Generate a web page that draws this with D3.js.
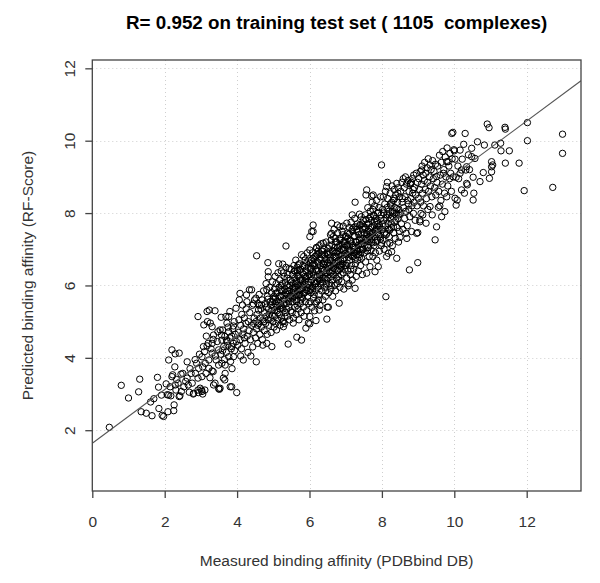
<!DOCTYPE html>
<html>
<head>
<meta charset="utf-8">
<script src="https://cdn.jsdelivr.net/npm/d3@7"></script>
<style>
  body { margin: 0; background: #fff; }
  text { font-family: "Liberation Sans", Arial, sans-serif; }
</style>
</head>
<body>
<svg id="chart"></svg>
<script>
const titleText = "R= 0.952 on training test set ( 1105  complexes)";
const xLabel = "Measured binding affinity (PDBbind DB)";
const yLabel = "Predicted binding affinity (RF-Score)";
const xTicks = [0, 2, 4, 6, 8, 10, 12];
const yTicks = [2, 4, 6, 8, 10, 12];
const xDomain = [0, 13.5];
const yDomain = [0.32, 12.23];
const fitLine = [1.64, 0.742]; // intercept, slope of the regression line

// [measured, predicted]
const points = [
  [0.47,2.08],[0.80,3.24],[1.00,2.89],[1.28,3.06],[1.31,3.41],[1.35,2.51],[1.49,2.47],[1.61,2.78],[1.65,2.40],[1.70,2.87],
  [1.80,3.46],[1.83,3.19],[1.84,2.60],[1.91,2.97],[1.93,2.41],[1.97,2.38],
  [2.04,3.28],[2.07,2.98],[2.09,2.51],[2.11,2.97],[2.17,2.95],[2.20,3.48],[2.22,3.53],[2.25,2.54],[2.26,2.70],[2.29,3.25],
  [2.31,3.11],[2.37,3.30],[2.40,2.93],[2.42,2.95],[2.46,3.07],[2.20,4.22],[2.11,3.94],[2.29,4.11],[2.40,4.13],[2.15,3.20],
  [2.33,3.40],[2.45,3.55],[2.28,3.75],
  [2.50,3.57],[2.53,3.20],[2.62,3.44],[2.65,3.25],[2.73,3.57],[2.79,3.00],[2.80,3.02],[2.85,3.57],[2.92,3.11],[2.93,3.04],
  [2.92,3.44],[2.94,3.71],[2.98,3.16],[2.62,3.89],[2.70,3.70],[2.58,3.35],[2.88,3.85],[2.76,3.30],[2.92,5.14],[2.96,4.10],
  [2.84,3.95],[2.68,3.05],
  [3.02,3.11],[3.03,3.07],[3.03,3.48],[3.05,3.00],[3.14,3.57],[3.22,3.71],[3.31,3.64],[3.35,3.25],[3.49,3.15],[3.34,3.62],
  [3.39,3.30],[3.11,3.11],[3.17,5.28],[3.08,4.91],[3.26,4.96],[3.31,4.86],[3.23,5.32],[3.39,5.30],[3.18,5.00],[3.10,4.17],
  [3.17,4.33],[3.03,4.03],[3.22,3.94],[3.31,4.13],[3.42,3.94],[3.49,4.22],[3.31,4.40],[3.35,4.63],[3.47,4.72],[3.34,4.51],
  [3.20,4.40],[3.07,4.31],[3.49,3.80],[3.12,3.85],[3.28,4.25],[3.40,4.05],[3.15,4.60],[3.45,4.45],[3.05,3.75],[3.25,3.45],
  [3.51,3.13],[3.53,3.16],[3.56,5.12],[3.58,4.49],[3.60,4.77],[3.62,3.44],[3.63,4.31],[3.66,3.39],[3.66,4.59],[3.67,3.57],
  [3.67,3.80],[3.69,5.14],[3.71,4.49],[3.72,4.45],[3.72,4.96],[3.77,4.03],[3.77,4.72],[3.77,5.14],[3.80,5.28],[3.81,3.20],
  [3.85,3.20],[3.85,4.31],[3.85,4.60],[3.88,4.80],[3.90,4.03],[3.90,4.40],[3.90,4.88],[3.92,5.00],[3.97,5.37],[3.99,3.04],
  [3.53,4.77],[3.57,4.63],[3.84,4.25],[3.55,4.10],[3.60,4.20],[3.70,4.15],[3.75,4.35],[3.80,4.55],[3.95,4.65],[3.65,3.95],
  [3.82,3.90],[3.93,4.20],[3.75,4.85],[3.98,4.45],[3.58,3.85],[3.86,3.70],
  [4.06,5.60],[4.08,5.78],[4.15,5.46],[4.17,3.94],[4.26,5.74],[4.34,5.88],[4.40,5.88],[4.45,5.49],
  [4.02,4.35],[4.04,4.70],[4.05,5.05],[4.08,4.50],[4.10,4.90],[4.12,4.25],[4.13,5.20],[4.15,4.65],[4.18,4.80],[4.20,5.10],
  [4.22,4.40],[4.24,4.95],[4.25,5.35],[4.28,4.60],[4.30,4.15],[4.31,5.00],[4.33,4.75],[4.35,5.25],[4.37,4.50],[4.40,4.90],
  [4.42,5.45],[4.43,4.30],[4.45,4.70],[4.47,5.10],[4.48,5.60],[4.10,4.05],[4.20,4.55],[4.38,4.05],[4.27,5.55],[4.46,4.95],
  [4.52,5.65],[4.53,3.89],[4.54,6.82],[4.59,5.32],[4.68,5.46],[4.82,4.40],[4.82,5.88],[4.85,6.63],[4.86,6.38],[4.86,6.24],
  [4.96,4.31],
  [4.51,4.55],[4.52,5.00],[4.54,4.80],[4.55,5.20],[4.57,4.40],[4.58,5.50],[4.60,4.95],[4.61,5.75],[4.63,4.65],[4.64,5.10],
  [4.66,5.35],[4.67,4.85],[4.69,5.60],[4.70,4.50],[4.72,5.05],[4.73,5.85],[4.75,4.75],[4.76,5.25],[4.78,5.50],[4.79,4.95],
  [4.80,6.05],[4.81,5.15],[4.83,4.65],[4.84,5.70],[4.87,5.35],[4.88,4.90],[4.90,5.95],[4.91,5.55],[4.92,5.10],[4.94,4.70],
  [4.95,5.80],[4.96,5.30],[4.98,6.10],[4.99,5.00],[4.62,5.45],[4.74,5.00],[4.86,5.05],[4.97,5.55],[4.57,4.90],[4.71,4.35],
  [4.81,5.40],[4.85,5.62],[4.89,5.20],[4.93,5.45],[4.97,5.18],
  [5.09,4.77],[5.26,6.59],[5.28,4.86],[5.28,5.00],[5.32,5.14],[5.35,7.09],[5.41,4.38],[5.44,6.47],
  [5.01,5.40],[5.02,4.85],[5.03,5.90],[5.04,5.15],[5.05,6.25],[5.06,5.65],[5.07,4.95],[5.08,6.05],[5.10,5.30],[5.11,5.80],
  [5.12,5.05],[5.13,6.35],[5.14,5.55],[5.16,5.95],[5.17,5.20],[5.18,6.15],[5.19,4.90],[5.20,5.70],[5.21,5.45],[5.22,6.40],
  [5.23,5.10],[5.24,5.85],[5.25,6.05],[5.27,5.35],[5.29,5.60],[5.30,6.25],[5.31,4.95],[5.33,5.80],[5.34,5.25],[5.35,6.50],
  [5.36,5.50],[5.37,6.00],[5.38,5.15],[5.39,5.75],[5.40,6.30],[5.42,5.40],[5.43,5.95],[5.45,5.05],[5.46,5.65],[5.47,6.15],
  [5.48,5.30],[5.49,6.45],[5.05,5.50],[5.15,6.60],[5.25,5.00],[5.32,5.90],[5.44,5.85],[5.12,5.45],[5.22,6.00],[5.38,6.20],
  [5.02,5.70],[5.28,6.35],[5.41,5.60],[5.18,5.35],
  [5.00,5.62],[5.04,5.32],[5.07,5.78],[5.09,5.55],[5.13,5.25],[5.16,5.70],[5.19,5.50],[5.21,5.88],[5.24,5.40],[5.27,5.72],
  [5.30,5.48],[5.33,6.08],[5.35,5.62],[5.37,5.35],[5.40,5.85],[5.43,5.55],[5.46,6.00],[5.48,5.72],
  [5.55,4.96],[5.65,4.57],[5.66,6.50],[5.69,6.57],[5.78,4.49],[5.90,4.82],[5.97,4.96],
  [5.51,5.80],[5.52,5.25],[5.53,6.30],[5.54,5.55],[5.55,6.05],[5.56,5.10],[5.57,6.55],[5.58,5.70],[5.59,6.20],[5.60,5.40],
  [5.61,5.95],[5.62,6.70],[5.63,5.20],[5.64,6.10],[5.65,5.60],[5.67,6.40],[5.68,5.85],[5.69,5.35],[5.70,6.25],[5.71,5.05],
  [5.72,6.60],[5.73,5.75],[5.74,6.00],[5.75,5.50],[5.76,6.45],[5.77,5.25],[5.78,6.85],[5.79,5.90],[5.80,6.15],[5.81,5.65],
  [5.82,6.55],[5.83,5.40],[5.84,6.30],[5.85,5.15],[5.86,6.05],[5.87,5.80],[5.88,6.70],[5.89,5.55],[5.90,6.40],[5.91,6.20],
  [5.92,5.30],[5.93,5.95],[5.94,6.90],[5.95,5.70],[5.96,6.50],[5.97,6.10],[5.98,5.50],[5.99,6.30],[5.56,5.85],[5.64,5.75],
  [5.72,6.20],[5.80,5.95],[5.88,6.25],[5.96,5.85],[5.60,6.40],[5.76,5.60],[5.84,6.80],[5.66,5.45],
  [5.51,6.10],[5.53,5.65],[5.55,5.92],[5.58,6.40],[5.60,5.82],[5.62,6.05],[5.64,5.55],[5.66,6.28],[5.68,6.00],[5.70,5.72],
  [5.72,6.42],[5.74,5.88],[5.76,6.15],[5.78,5.70],[5.80,6.35],[5.82,6.02],[5.84,5.78],[5.86,6.52],[5.88,6.12],[5.90,5.88],
  [5.92,6.62],[5.94,6.25],[5.96,6.02],[5.98,6.70],
  [6.01,4.94],[6.01,5.14],[6.18,5.03],[6.27,5.32],[6.01,7.35],[6.06,7.49],[6.10,7.49],[6.10,7.67],[6.20,7.03],[6.38,7.17],
  [6.48,5.07],[6.49,5.40],[6.01,6.98],
  [6.01,6.00],[6.02,5.55],[6.03,6.45],[6.04,5.80],[6.05,6.70],[6.06,6.15],[6.07,5.40],[6.08,6.90],[6.09,5.95],[6.10,6.35],
  [6.11,5.65],[6.12,6.60],[6.13,6.10],[6.14,5.30],[6.15,6.80],[6.16,5.85],[6.17,6.45],[6.18,6.05],[6.19,7.05],[6.20,5.55],
  [6.21,6.25],[6.22,6.65],[6.23,5.95],[6.24,6.95],[6.25,6.40],[6.26,5.75],[6.27,6.15],[6.28,6.75],[6.29,5.45],[6.30,6.55],
  [6.31,6.00],[6.32,7.15],[6.33,6.30],[6.34,5.85],[6.35,6.85],[6.36,6.10],[6.37,5.60],[6.38,6.60],[6.39,6.40],[6.40,7.00],
  [6.41,5.95],[6.42,6.20],[6.43,6.75],[6.44,5.70],[6.45,6.50],[6.46,7.20],[6.47,6.05],[6.48,6.35],[6.49,6.90],[6.05,6.25],
  [6.13,5.75],[6.21,6.85],[6.29,6.20],[6.37,6.45],[6.45,5.85],[6.09,6.55],[6.25,5.60],[6.41,6.65],[6.17,5.50],[6.33,6.95],
  [6.03,5.90],[6.27,7.10],
  [6.00,6.30],[6.02,6.62],[6.04,6.08],[6.06,6.48],[6.08,5.85],[6.10,6.75],[6.12,6.28],[6.14,6.55],[6.16,6.05],[6.18,6.82],
  [6.20,6.40],[6.22,6.12],[6.24,6.62],[6.26,6.88],[6.28,6.30],[6.30,6.05],[6.32,6.70],[6.34,6.45],[6.36,6.95],[6.38,6.22],
  [6.40,6.58],[6.42,6.85],[6.44,6.35],[6.46,6.72],[6.48,6.15],
  [6.52,5.40],[6.61,7.72],[6.61,7.44],[6.77,7.67],[6.82,5.51],[6.84,7.62],[6.93,7.64],
  [6.51,6.20],[6.52,6.85],[6.53,5.80],[6.54,6.55],[6.55,7.10],[6.56,6.05],[6.57,6.70],[6.58,6.35],[6.59,5.90],[6.60,7.25],
  [6.61,6.50],[6.62,6.15],[6.63,6.95],[6.64,5.70],[6.65,6.60],[6.66,7.35],[6.67,6.30],[6.68,6.80],[6.69,6.00],[6.70,7.05],
  [6.71,6.45],[6.72,5.85],[6.73,6.90],[6.74,6.20],[6.75,7.20],[6.76,6.65],[6.77,6.05],[6.78,7.45],[6.79,6.40],[6.80,6.85],
  [6.81,6.15],[6.82,7.10],[6.83,6.55],[6.84,5.95],[6.85,7.30],[6.86,6.70],[6.87,6.30],[6.88,7.00],[6.89,6.10],[6.90,7.50],
  [6.91,6.60],[6.92,6.85],[6.93,6.35],[6.94,7.20],[6.95,5.90],[6.96,6.75],[6.97,7.05],[6.98,6.45],[6.99,7.35],[6.56,6.90],
  [6.64,6.40],[6.72,7.30],[6.80,6.25],[6.88,6.50],[6.96,7.15],[6.60,6.00],[6.68,7.55],[6.76,6.95],[6.84,6.45],[6.92,7.40],
  [6.58,7.40],
  [6.50,6.62],[6.52,7.02],[6.54,6.38],[6.56,6.78],[6.58,6.55],[6.60,6.25],[6.62,7.12],[6.64,6.70],[6.66,6.48],[6.68,6.95],
  [6.70,6.62],[6.72,7.20],[6.74,6.78],[6.76,6.42],[6.78,7.05],[6.80,6.68],[6.82,6.95],[6.84,7.25],[6.86,6.58],[6.88,6.82],
  [6.90,7.12],[6.92,6.72],[6.94,6.98],[6.96,6.55],[6.98,7.22],
  [7.03,7.72],[7.07,5.99],[7.26,5.92],[7.26,8.30],[7.38,7.97],
  [7.01,6.55],[7.02,7.10],[7.03,6.20],[7.04,6.85],[7.05,7.45],[7.06,6.40],[7.08,7.00],[7.09,6.05],[7.10,7.60],[7.11,6.70],
  [7.12,7.25],[7.13,6.30],[7.14,6.95],[7.15,7.75],[7.16,6.55],[7.17,7.15],[7.18,6.15],[7.19,7.50],[7.20,6.80],[7.21,7.05],
  [7.22,6.45],[7.23,7.35],[7.24,6.90],[7.25,7.85],[7.27,6.60],[7.28,7.20],[7.29,6.25],[7.30,7.55],[7.31,6.95],[7.32,7.70],
  [7.33,6.70],[7.34,7.10],[7.35,6.40],[7.36,7.40],[7.37,6.85],[7.39,7.65],[7.40,7.00],[7.41,6.55],[7.42,7.30],[7.43,7.90],
  [7.44,6.75],[7.45,7.15],[7.46,6.30],[7.47,7.55],[7.48,7.00],[7.49,7.80],[7.06,7.30],[7.14,6.45],[7.22,7.60],[7.30,6.85],
  [7.38,7.25],[7.46,7.70],[7.10,6.90],[7.26,7.05],[7.42,6.90],[7.18,7.95],
  [7.00,6.88],[7.02,7.35],[7.04,6.62],[7.06,7.12],[7.08,6.78],[7.10,7.42],[7.12,6.98],[7.14,7.22],[7.16,6.82],[7.18,7.55],
  [7.20,7.10],[7.22,6.92],[7.24,7.38],[7.26,6.72],[7.28,7.62],[7.30,7.20],[7.32,6.98],[7.34,7.48],[7.36,7.12],[7.38,6.78],
  [7.40,7.68],[7.42,7.15],[7.44,7.42],[7.46,6.98],[7.48,7.30],
  [7.56,8.50],[7.58,8.64],[7.72,8.47],[7.76,8.50],[7.67,6.52],[7.81,6.38],[7.58,6.34],[7.99,9.33],[7.90,6.52],
  [7.51,6.90],[7.52,7.45],[7.53,7.10],[7.54,7.95],[7.55,6.65],[7.57,7.30],[7.59,7.70],[7.60,6.95],[7.61,8.15],[7.62,7.50],
  [7.63,7.05],[7.64,7.85],[7.65,6.80],[7.66,7.35],[7.67,7.26],[7.68,8.05],[7.69,7.60],[7.70,6.98],[7.71,7.80],[7.72,7.20],
  [7.73,8.30],[7.74,7.45],[7.75,6.80],[7.77,7.95],[7.78,7.10],[7.79,7.65],[7.80,8.20],[7.81,7.35],[7.82,6.90],[7.83,7.85],
  [7.84,7.55],[7.85,8.35],[7.86,6.70],[7.87,7.25],[7.88,8.00],[7.89,7.70],[7.91,7.40],[7.92,8.15],[7.93,6.95],[7.94,7.60],
  [7.95,7.35],[7.96,8.45],[7.97,7.85],[7.98,7.10],[7.99,7.17],[7.60,7.25],[7.70,7.40],[7.80,7.75],[7.90,7.55],[7.55,7.60],
  [7.75,8.10],
  [7.50,7.62],[7.53,7.25],[7.56,7.82],[7.58,7.42],[7.61,7.05],[7.63,7.70],[7.66,7.48],[7.68,7.90],[7.71,7.30],[7.73,7.62],
  [7.76,7.18],[7.78,7.92],[7.81,7.52],[7.83,7.20],[7.86,7.78],[7.88,7.45],[7.91,8.02],[7.93,7.65],[7.96,7.28],[7.98,7.95],
  [8.11,5.69],[8.41,6.75],[8.18,6.89],[8.13,6.80],[8.27,6.93],
  [8.01,7.55],[8.02,8.10],[8.03,7.25],[8.04,8.45],[8.05,7.80],[8.06,7.00],[8.08,8.25],[8.09,7.65],[8.10,8.60],[8.12,7.40],
  [8.13,8.73],[8.13,7.44],[8.14,7.95],[8.15,7.15],[8.16,8.40],[8.17,7.70],[8.19,8.05],[8.20,7.35],[8.22,7.53],[8.22,7.17],
  [8.23,8.55],[8.24,7.85],[8.25,8.20],[8.26,7.60],[8.28,8.75],[8.29,7.10],[8.30,8.00],[8.31,7.90],[8.32,8.35],[8.33,7.45],
  [8.34,8.65],[8.35,7.75],[8.36,8.15],[8.37,7.30],[8.38,8.50],[8.39,7.95],[8.41,8.82],[8.42,7.60],[8.43,8.30],[8.44,7.85],
  [8.45,8.70],[8.46,7.20],[8.47,8.10],[8.48,7.50],[8.49,8.45],[8.15,8.85],[8.27,8.30],[8.40,8.00],
  [8.02,7.70],[8.05,8.00],[8.08,7.45],[8.11,7.88],[8.14,8.15],[8.17,7.55],[8.20,7.95],[8.23,8.25],[8.26,7.72],[8.29,8.05],
  [8.32,7.62],[8.35,8.40],[8.38,7.80],[8.41,8.12],[8.44,8.55],[8.47,7.95],
  [8.50,7.33],[8.67,7.44],[8.69,7.30],[8.76,6.43],[8.99,6.63],[8.96,7.44],
  [8.51,8.00],[8.52,8.60],[8.54,7.70],[8.55,8.85],[8.56,8.30],[8.58,7.55],[8.59,8.95],[8.60,8.15],[8.62,8.70],[8.63,7.85],
  [8.64,8.45],[8.65,9.00],[8.66,8.05],[8.68,8.80],[8.70,7.65],[8.71,8.35],[8.72,8.90],[8.74,8.10],[8.75,8.60],[8.77,7.90],
  [8.78,8.82],[8.79,8.80],[8.80,8.40],[8.81,8.85],[8.82,7.49],[8.83,8.20],[8.84,8.95],[8.85,8.55],[8.87,7.99],[8.88,9.05],
  [8.89,8.30],[8.90,8.70],[8.92,7.80],[8.93,8.50],[8.95,9.10],[8.97,8.20],[8.98,8.85],[8.99,7.46],[8.57,8.40],[8.73,8.25],
  [8.86,8.65],
  [9.05,7.81],[9.05,7.76],[9.08,7.99],[9.22,7.72],[9.33,8.18],[9.47,7.26],[9.10,9.19],[9.33,9.33],
  [9.01,8.40],[9.02,8.95],[9.04,8.65],[9.06,9.15],[9.07,8.30],[9.09,8.80],[9.11,9.30],[9.12,8.55],[9.14,9.05],[9.15,8.20],
  [9.17,8.90],[9.18,9.40],[9.20,8.65],[9.21,9.10],[9.23,8.40],[9.25,9.25],[9.26,8.85],[9.28,9.50],[9.29,8.60],[9.31,9.00],
  [9.34,8.75],[9.36,9.20],[9.38,8.45],[9.40,9.45],[9.42,8.95],[9.44,9.15],[9.46,8.70],[9.48,9.35],[9.49,8.50],[9.13,7.95],
  [9.27,8.10],[9.39,7.95],
  [9.51,7.62],[9.56,8.16],[9.65,7.90],[9.74,8.04],[9.79,8.45],[9.93,10.20],[9.96,10.23],[9.83,9.42],[9.51,9.01],[9.70,9.10],
  [9.52,8.85],[9.54,9.30],[9.57,8.60],[9.59,9.60],[9.61,9.05],[9.63,8.35],[9.64,9.40],[9.67,8.80],[9.68,9.70],[9.71,9.20],
  [9.73,8.55],[9.75,9.55],[9.77,9.00],[9.79,9.42],[9.80,9.80],[9.82,8.75],[9.85,9.30],[9.87,8.95],[9.88,9.65],[9.90,9.10],
  [9.92,8.60],[9.94,9.50],[9.97,9.00],[9.99,9.75],[9.60,8.20],
  [10.00,9.72],[10.02,8.41],[10.02,9.49],[10.05,8.22],[10.05,8.99],[10.08,8.36],[10.16,9.10],[10.16,9.74],[10.20,8.64],
  [10.20,9.19],[10.22,9.49],[10.30,10.20],[10.32,9.19],[10.34,8.82],[10.34,9.28],[10.36,8.78],[10.39,9.61],[10.48,9.56],
  [10.48,9.79],[10.10,9.30],[10.26,9.90],[10.12,8.95],[10.42,9.20],[10.28,8.55],
  [10.52,8.36],[10.52,8.99],[10.54,8.55],[10.57,9.51],[10.64,9.97],[10.71,8.87],[10.80,9.12],[10.83,9.88],[10.91,10.46],
  [10.96,10.36],[10.97,8.96],
  [11.03,9.42],[11.03,9.28],[11.03,9.14],[11.06,9.33],[11.12,9.88],[11.28,9.93],[11.29,9.72],[11.40,10.37],[11.41,10.32],
  [11.41,9.38],[11.52,9.72],[11.79,9.38],[11.93,8.62],[12.02,10.50],[12.02,10.00],[12.72,8.71],[12.99,10.18],[12.99,9.65]
];

const width = 600, height = 583;
const margin = { top: 60, right: 19, bottom: 92, left: 92.3 };
const axisColor = "#444";

const svg = d3.select("#chart")
  .attr("width", width)
  .attr("height", height);

const x = d3.scaleLinear().domain(xDomain).range([margin.left, width - margin.right]);
const y = d3.scaleLinear().domain(yDomain).range([height - margin.bottom, margin.top]);

// grid
const grid = svg.append("g")
  .attr("stroke", "#cfcfcf")
  .attr("stroke-width", 1)
  .attr("stroke-dasharray", "1,3");
grid.selectAll(".gx").data(xTicks).enter().append("line")
  .attr("x1", d => Math.round(x(d)) + 0.5).attr("x2", d => Math.round(x(d)) + 0.5)
  .attr("y1", margin.top).attr("y2", height - margin.bottom);
grid.selectAll(".gy").data(yTicks).enter().append("line")
  .attr("y1", d => Math.round(y(d)) + 0.5).attr("y2", d => Math.round(y(d)) + 0.5)
  .attr("x1", margin.left).attr("x2", width - margin.right);

// points
svg.append("g")
  .selectAll("circle")
  .data(points)
  .enter()
  .append("circle")
  .attr("cx", d => x(d[0]))
  .attr("cy", d => y(d[1]))
  .attr("r", 3.2)
  .attr("fill", "none")
  .attr("stroke", "#000")
  .attr("stroke-width", 1);

// regression line, clipped to the box
svg.append("clipPath").attr("id", "clip")
  .append("rect")
  .attr("x", margin.left).attr("y", margin.top)
  .attr("width", width - margin.left - margin.right)
  .attr("height", height - margin.top - margin.bottom);
svg.append("line")
  .attr("clip-path", "url(#clip)")
  .attr("x1", x(xDomain[0])).attr("y1", y(fitLine[0] + fitLine[1] * xDomain[0]))
  .attr("x2", x(xDomain[1])).attr("y2", y(fitLine[0] + fitLine[1] * xDomain[1]))
  .attr("stroke", "#555")
  .attr("stroke-width", 1.1);

// box
svg.append("rect")
  .attr("x", margin.left).attr("y", margin.top)
  .attr("width", width - margin.left - margin.right)
  .attr("height", height - margin.top - margin.bottom)
  .attr("fill", "none")
  .attr("stroke", axisColor)
  .attr("stroke-width", 1.3);

// axes
const xAxis = svg.append("g")
  .attr("transform", `translate(0,${height - margin.bottom})`)
  .call(d3.axisBottom(x).tickValues(xTicks).tickSize(7).tickPadding(18));
const yAxis = svg.append("g")
  .attr("transform", `translate(${margin.left},0)`)
  .call(d3.axisLeft(y).tickValues(yTicks).tickSize(7));

[xAxis, yAxis].forEach(a => {
  a.select(".domain").remove();
  a.selectAll(".tick line").attr("stroke", axisColor).attr("stroke-width", 1.3);
  a.selectAll("text")
    .attr("fill", "#333")
    .style("font-size", "15.5px")
    .style("font-family", "'Liberation Sans', Arial, sans-serif");
});

yAxis.selectAll(".tick text")
  .attr("x", null).attr("dy", null)
  .attr("text-anchor", "middle")
  .attr("transform", "translate(-17,0) rotate(-90)");

// labels
svg.append("text")
  .attr("x", (margin.left + width - margin.right) / 2)
  .attr("y", 29)
  .attr("text-anchor", "middle")
  .attr("fill", "#000")
  .style("font-size", "18.8px")
  .style("font-weight", "bold")
  .style("white-space", "pre")
  .text(titleText);

svg.append("text")
  .attr("x", (margin.left + width - margin.right) / 2)
  .attr("y", 566)
  .attr("text-anchor", "middle")
  .attr("fill", "#333")
  .style("font-size", "15.5px")
  .text(xLabel);

svg.append("text")
  .attr("transform", `translate(33,${(margin.top + height - margin.bottom) / 2}) rotate(-90)`)
  .attr("text-anchor", "middle")
  .attr("fill", "#333")
  .style("font-size", "15.5px")
  .text(yLabel);
</script>
</body>
</html>
